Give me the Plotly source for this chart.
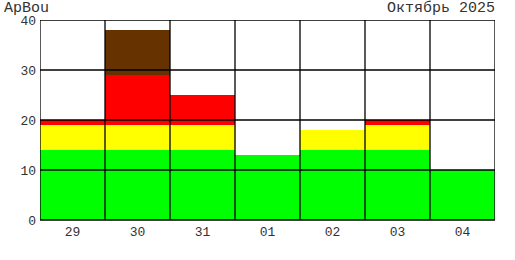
import plotly.graph_objects as go

days = ["29", "30", "31", "01", "02", "03", "04"]
green = [14, 14, 14, 13, 14, 14, 10]
yellow = [5, 5, 5, 0, 4, 5, 0]
red = [1, 10, 6, 0, 0, 1, 0]
brown = [0, 9, 0, 0, 0, 0, 0]
y_ticks = [0, 10, 20, 30, 40]

series = [("green", green, "#00ff00"), ("yellow", yellow, "#ffff00"),
          ("red", red, "#ff0000"), ("brown", brown, "#663300")]

fig = go.Figure()
xs = list(range(len(days)))
for name, vals, col in series:
    fig.add_trace(go.Bar(x=xs, y=vals, name=name, marker=dict(color=col, line=dict(width=0)),
                         width=1.0, hoverinfo="skip"))

mono = "Liberation Mono, Courier New, monospace"
tick_font = dict(family=mono, size=13, color="#333")
title_font = dict(family=mono, size=15, color="#333")

shapes = []
for yv in y_ticks[1:]:
    shapes.append(dict(type="line", xref="paper", yref="y", x0=0, x1=1, y0=yv, y1=yv,
                       line=dict(color="black", width=1.3), layer="above"))
for i in range(len(days) + 1):
    shapes.append(dict(type="line", xref="x", yref="paper", x0=i - 0.5, x1=i - 0.5, y0=0, y1=1,
                       line=dict(color="black", width=1.3), layer="above"))
shapes.append(dict(type="line", xref="paper", yref="paper", x0=0, x1=1, y0=0, y1=0,
                   line=dict(color="black", width=1.3), layer="above"))

fig.update_layout(
    width=515, height=260, margin=dict(l=40, r=20, t=20, b=40),
    barmode="stack", bargap=0, showlegend=False,
    plot_bgcolor="white", paper_bgcolor="white",
    font=tick_font,
    xaxis=dict(range=[-0.5, len(days) - 0.5], tickvals=xs, ticktext=days, showgrid=False,
               zeroline=False, ticks="", fixedrange=True, tickfont=tick_font,
               ticklabelstandoff=2),
    yaxis=dict(range=[0, 40], tickvals=y_ticks, showgrid=False, zeroline=False, ticks="",
               fixedrange=True, tickfont=tick_font, ticklabelstandoff=3),
    shapes=shapes,
    annotations=[
        dict(text="ApBou", xref="paper", yref="paper", x=0, y=1, xshift=-38, yshift=12,
             xanchor="left", yanchor="middle", showarrow=False, font=title_font),
        dict(text="Октябрь 2025", xref="paper", yref="paper", x=1, y=1, xshift=2, yshift=12,
             xanchor="right", yanchor="middle", showarrow=False, font=title_font),
    ],
)

fig.write_html("out.html")
